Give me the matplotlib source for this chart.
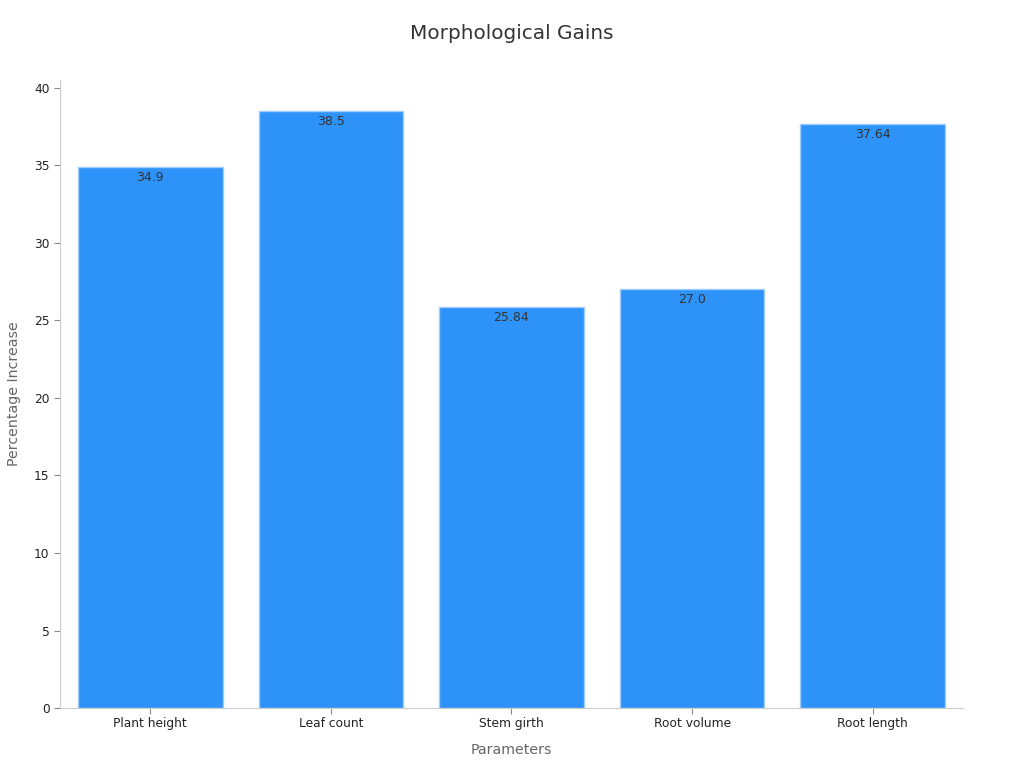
import matplotlib.pyplot as plt

categories = ['Plant height', 'Leaf count', 'Stem girth', 'Root volume', 'Root length']
values = [34.9, 38.5, 25.84, 27.0, 37.64]
value_labels = ['34.9', '38.5', '25.84', '27.0', '37.64']
y_ticks = [0, 5, 10, 15, 20, 25, 30, 35, 40]

plt.rcParams['font.family'] = ['DejaVu Sans']
fig = plt.figure(figsize=(10.24, 7.68), dpi=100)
ax = fig.add_axes([0.0586, 0.078, 0.8818, 0.818])

x = range(len(categories))
bars = ax.bar(x, values, width=0.8, color='#2E93F9', edgecolor='#9FCDFB', linewidth=1)
for b, lab in zip(bars, value_labels):
    ax.text(b.get_x() + b.get_width() / 2, b.get_height() - 0.25, lab,
            ha='center', va='top', fontsize=9, color='#333333')

ax.set_xlim(-0.5, 4.5)
ax.set_ylim(0, 40.5)
ax.set_xticks(list(x))
ax.set_xticklabels(categories, fontsize=8.8, color='#222222')
ax.set_yticks(y_ticks)
ax.set_yticklabels([str(t) for t in y_ticks], fontsize=8.8, color='#222222')
ax.tick_params(axis='both', colors='#888888', labelcolor='#222222', length=4)
ax.tick_params(axis='x', pad=2.5)

for s in ['top', 'right']:
    ax.spines[s].set_visible(False)
for s in ['left', 'bottom']:
    ax.spines[s].set_color('#cccccc')

ax.set_xlabel('Parameters', fontsize=10.2, color='#666666', labelpad=9)
ax.set_ylabel('Percentage Increase', fontsize=10.2, color='#666666', labelpad=9)
fig.text(0.5, 0.957, 'Morphological Gains', ha='center', va='center', fontsize=14.4, color='#333333')

fig.savefig('out.png', dpi=100)
